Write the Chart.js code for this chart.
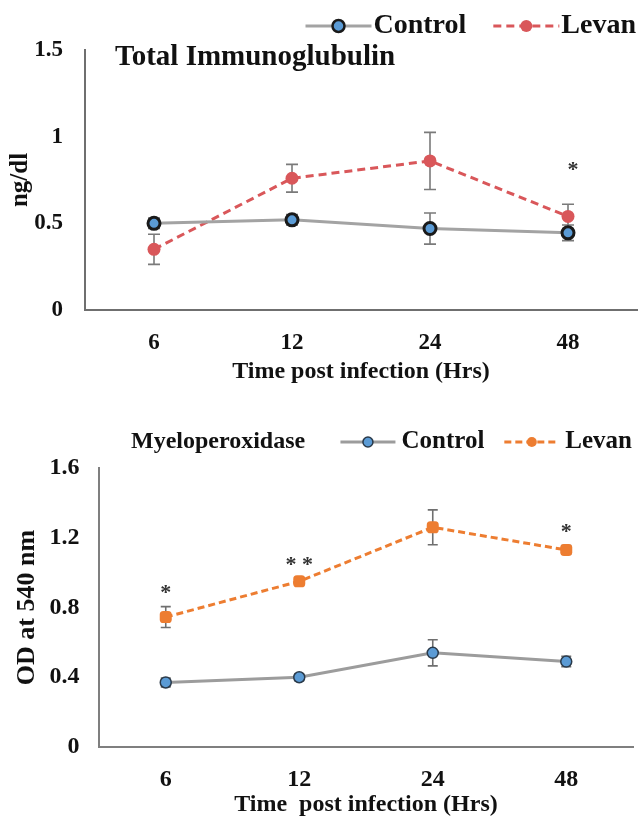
<!DOCTYPE html>
<html><head><meta charset="utf-8">
<script src="https://cdn.jsdelivr.net/npm/chart.js@4.4.1/dist/chart.umd.min.js"></script>
<style>
html,body{margin:0;padding:0;background:#fff;}
#w1{position:absolute;left:0;top:0;width:639px;height:395px;}
#w2{position:absolute;left:0;top:395px;width:639px;height:426px;}
</style></head><body>
<div id="w1"><canvas id="c1"></canvas></div>
<div id="w2"><canvas id="c2"></canvas></div>
<script>
// ---------- data ----------
const categories = ['6', '12', '24', '48'];

const igControl    = [0.50, 0.52, 0.47, 0.445];
const igControlErr = [0.03, 0.03, 0.09, 0.045];
const igLevan      = [0.35, 0.76, 0.86, 0.54];
const igLevanErr   = [0.087, 0.08, 0.165, 0.07];
const igStars      = ['', '', '', '*'];
const igTicks      = [0, 0.5, 1, 1.5];

const mpoControl    = [0.37, 0.40, 0.54, 0.49];
const mpoControlErr = [0.025, 0.02, 0.075, 0.03];
const mpoLevan      = [0.745, 0.95, 1.26, 1.13];
const mpoLevanErr   = [0.06, 0.02, 0.10, 0.025];
const mpoStars      = ['*', '* *', '', '*'];
const mpoTicks      = [0, 0.4, 0.8, 1.2, 1.6];

// ---------- styling ----------
const SERIF = "'Liberation Serif', 'Times New Roman', serif";
Chart.defaults.font.family = SERIF;
Chart.defaults.font.weight = 'bold';
Chart.defaults.color = '#111';

const decor = {
  id: 'decor',
  beforeDatasetsDraw(chart, args, o) {
    const ctx = chart.ctx, ys = chart.scales.y;
    ctx.save();
    ctx.strokeStyle = o.errColor; ctx.lineWidth = o.errWidth;
    o.errors.forEach((errs, di) => {
      const meta = chart.getDatasetMeta(di);
      const vals = chart.data.datasets[di].data;
      meta.data.forEach((pt, j) => {
        const yt = ys.getPixelForValue(vals[j] + errs[j]);
        const yb = ys.getPixelForValue(vals[j] - errs[j]);
        ctx.beginPath();
        ctx.moveTo(pt.x, yt); ctx.lineTo(pt.x, yb);
        ctx.moveTo(pt.x - o.cap, yt); ctx.lineTo(pt.x + o.cap, yt);
        ctx.moveTo(pt.x - o.cap, yb); ctx.lineTo(pt.x + o.cap, yb);
        ctx.stroke();
      });
    });
    ctx.restore();
  },
  afterDraw(chart, args, o) {
    const ctx = chart.ctx, ys = chart.scales.y;
    ctx.save();
    // significance stars above Levan series
    const meta = chart.getDatasetMeta(1);
    const vals = chart.data.datasets[1].data;
    ctx.fillStyle = '#333'; ctx.font = o.starFont;
    ctx.textAlign = 'center'; ctx.textBaseline = 'middle';
    o.stars.forEach((s, j) => {
      if (!s) return;
      const pt = meta.data[j];
      ctx.fillText(s, pt.x + o.starDx, ys.getPixelForValue(vals[j] + o.errors[1][j]) - o.starGap);
    });
    // title
    ctx.fillStyle = '#111'; ctx.font = o.titleFont;
    ctx.textAlign = 'left'; ctx.textBaseline = 'middle';
    ctx.fillText(o.title, o.titleX, o.titleY);
    // legend (right aligned, line + marker samples)
    const L = o.legend;
    ctx.font = L.font;
    let x = chart.width - L.right;
    for (let i = chart.data.datasets.length - 1; i >= 0; i--) {
      const ds = chart.data.datasets[i];
      const tw = ctx.measureText(ds.label).width;
      x -= tw;
      ctx.fillStyle = '#111';
      ctx.fillText(ds.label, x, L.y);
      x -= L.gap;
      const x0 = x - L.sample;
      ctx.strokeStyle = ds.borderColor; ctx.lineWidth = ds.borderWidth;
      ctx.setLineDash(ds.borderDash || []);
      ctx.beginPath(); ctx.moveTo(x0, L.y); ctx.lineTo(x, L.y); ctx.stroke();
      ctx.setLineDash([]);
      const cx = (x0 + x) / 2;
      ctx.fillStyle = ds.pointBackgroundColor;
      ctx.beginPath(); ctx.arc(cx, L.y, L.r, 0, Math.PI * 2); ctx.fill();
      if (ds.pointBorderColor !== ds.pointBackgroundColor) {
        ctx.strokeStyle = ds.pointBorderColor; ctx.lineWidth = L.rb; ctx.stroke();
      }
      x = x0 - L.itemGap;
    }
    ctx.restore();
  }
};

function yTicksFrom(arr) {
  return (scale) => { scale.ticks = arr.map(v => ({ value: v })); };
}
const plainNum = (v) => String(v);
function fixX(h) {
  return (s) => { s.height = h; s.paddingLeft = 0; s.paddingRight = 0; };
}

// ---------- chart 1 ----------
new Chart(document.getElementById('c1'), {
  type: 'line',
  data: {
    labels: categories,
    datasets: [
      { label: 'Control', data: igControl, borderColor: '#a3a3a3', borderWidth: 3,
        pointBackgroundColor: '#5b9bd5', pointBorderColor: '#1a1a1a', pointBorderWidth: 3,
        pointRadius: 6, tension: 0 },
      { label: 'Levan', data: igLevan, borderColor: '#d9575a', borderWidth: 3, borderDash: [8, 5],
        pointBackgroundColor: '#d9575a', pointBorderColor: '#d9575a', pointBorderWidth: 0,
        pointRadius: 6.5, tension: 0 }
    ]
  },
  options: {
    responsive: true, maintainAspectRatio: false, animation: false,
    layout: { autoPadding: false, padding: { top: 50, left: 4, right: 2, bottom: 0 } },
    scales: {
      x: {
        offset: true,
        afterFit: fixX(85),
        grid: { display: false, drawTicks: false },
        border: { display: true, color: '#6f6f6f', width: 2 },
        ticks: { padding: 21.5, color: '#111', font: { size: 23, weight: 'bold', lineHeight: 1 } },
        title: { display: true, text: 'Time post infection (Hrs)', color: '#111',
                 font: { size: 24, weight: 'bold', lineHeight: 1 }, padding: { top: 0, bottom: 11 } }
      },
      y: {
        min: igTicks[0], max: igTicks[igTicks.length - 1],
        afterBuildTicks: yTicksFrom(igTicks),
        afterFit: (s) => { s.width = 81; },
        grid: { display: false, drawTicks: false },
        border: { display: true, color: '#6f6f6f', width: 2 },
        ticks: { padding: 22, color: '#111', font: { size: 23, weight: 'bold' }, callback: plainNum },
        title: { display: true, text: 'ng/dl', color: '#111',
                 font: { size: 25, weight: 'bold' }, padding: { top: 2, bottom: 0 } }
      }
    },
    plugins: {
      legend: { display: false }, tooltip: { enabled: false },
      decor: {
        errors: [igControlErr, igLevanErr], errColor: '#7a7a7a', errWidth: 1.6, cap: 6,
        stars: igStars, starFont: 'bold 22px ' + SERIF, starDx: 5, starGap: 34,
        title: 'Total Immunoglubulin', titleFont: 'bold 29px ' + SERIF, titleX: 115, titleY: 58,
        legend: { font: 'bold 28px ' + SERIF, y: 26, right: 3, gap: 2, sample: 66, itemGap: 27, r: 6, rb: 2.5 }
      }
    }
  },
  plugins: [decor]
});

// ---------- chart 2 ----------
new Chart(document.getElementById('c2'), {
  type: 'line',
  data: {
    labels: categories,
    datasets: [
      { label: 'Control', data: mpoControl, borderColor: '#9c9c9c', borderWidth: 3,
        pointBackgroundColor: '#5b9bd5', pointBorderColor: '#2a3a4a', pointBorderWidth: 1.5,
        pointRadius: 5.5, tension: 0 },
      { label: 'Levan', data: mpoLevan, borderColor: '#ed7d31', borderWidth: 3, borderDash: [7, 4],
        pointBackgroundColor: '#ed7d31', pointBorderColor: '#ed7d31', pointBorderWidth: 0,
        pointStyle: 'rectRounded', pointRadius: 7, tension: 0 }
    ]
  },
  options: {
    responsive: true, maintainAspectRatio: false, animation: false,
    layout: { autoPadding: false, padding: { top: 73, left: 12, right: 6, bottom: 0 } },
    scales: {
      x: {
        offset: true,
        afterFit: fixX(74),
        grid: { display: false, drawTicks: false },
        border: { display: true, color: '#7f7f7f', width: 2 },
        ticks: { padding: 21, color: '#111', font: { size: 24, weight: 'bold', lineHeight: 1 } },
        title: { display: true, text: 'Time  post infection (Hrs)', color: '#111',
                 font: { size: 24, weight: 'bold', lineHeight: 1 }, padding: { top: 0, bottom: 4 } }
      },
      y: {
        min: mpoTicks[0], max: mpoTicks[mpoTicks.length - 1],
        afterBuildTicks: yTicksFrom(mpoTicks),
        afterFit: (s) => { s.width = 87; },
        grid: { display: false, drawTicks: false },
        border: { display: true, color: '#7f7f7f', width: 2 },
        ticks: { padding: 19.5, color: '#111', font: { size: 24, weight: 'bold' }, callback: plainNum },
        title: { display: true, text: 'OD at 540 nm', color: '#111',
                 font: { size: 26, weight: 'bold' }, padding: { top: 0, bottom: 0 } }
      }
    },
    plugins: {
      legend: { display: false }, tooltip: { enabled: false },
      decor: {
        errors: [mpoControlErr, mpoLevanErr], errColor: '#6f6f6f', errWidth: 1.6, cap: 5,
        stars: mpoStars, starFont: 'bold 22px ' + SERIF, starDx: 0, starGap: 13,
        title: 'Myeloperoxidase', titleFont: 'bold 24px ' + SERIF, titleX: 131, titleY: 47,
        legend: { font: 'bold 25px ' + SERIF, y: 47, right: 7, gap: 6, sample: 55, itemGap: 20, r: 5, rb: 1.5 }
      }
    }
  },
  plugins: [decor]
});
</script>
</body></html>
